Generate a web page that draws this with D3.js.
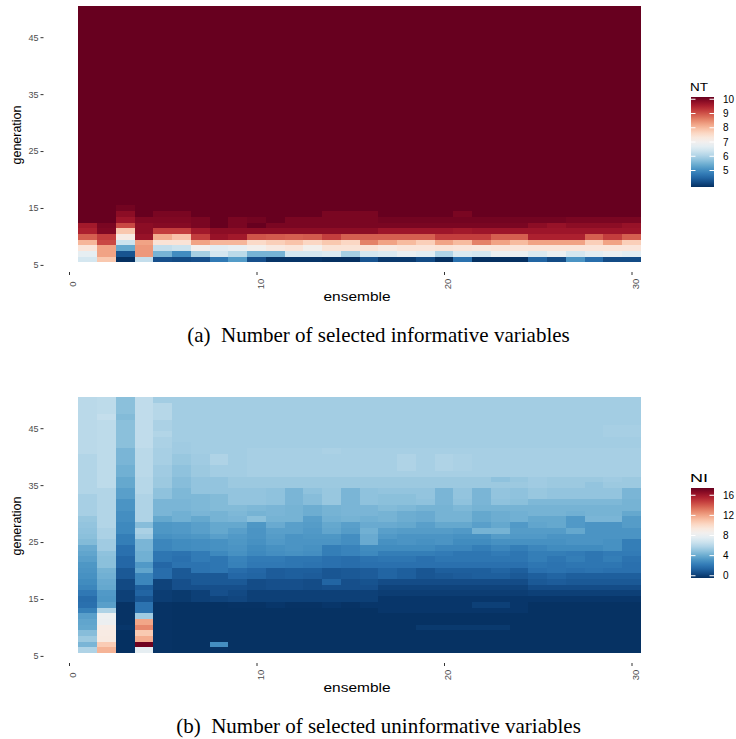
<!DOCTYPE html>
<html>
<head>
<meta charset="utf-8">
<script src="https://cdn.jsdelivr.net/npm/d3@7"></script>
<style>
  body { margin: 0; background: #fff; }
  svg text { font-family: "Liberation Sans", Arial, sans-serif; }
  .caption { font-family: "Liberation Serif", "Times New Roman", serif; }
</style>
</head>
<body>
<svg id="chart" width="736" height="739"></svg>
<script>
// ---------------- data ----------------
const ensembles = [1,2,3,4,5,6,7,8,9,10,11,12,13,14,15,16,17,18,19,20,21,22,23,24,25,26,27,28,29,30];
const generations = [6,7,8,9,10,11,12,13,14,15,16,17,18,19,20,21,22,23,24,25,26,27,28,29,30,
                     31,32,33,34,35,36,37,38,39,40,41,42,43,44,45,46,47,48,49,50];
const yTicks = [5, 15, 25, 35, 45];
const xTicks = [0, 10, 20, 30];
const ntLegendTicks = [5, 6, 7, 8, 9, 10];
const niLegendTicks = [0, 4, 8, 12, 16];

// NT (informative): rows for generation 6..16, one value per ensemble 1..30.
// every cell from generation 17 upward reads as the top of the scale (10).
const ntLowGenerations = [6,7,8,9,10,11,12,13,14,15,16];
const ntLow = [
  [6.5,7.8,4.0,6.3,4.35,4.3,4.35,4.85,5.3,4.35,4.05,4.05,4.05,4.0,4.0,4.4,4.1,4.1,4.3,4.0,4.75,4.0,4.0,4.0,4.6,4.3,5.2,4.7,4.3,4.3],
  [6.75,8.2,4.4,8.3,5.6,5.1,6.0,6.5,6.2,5.6,5.6,6.5,6.5,6.6,6.0,6.5,6.6,6.85,6.7,6.1,6.6,6.5,6.85,6.85,6.6,6.85,6.5,6.7,6.85,6.7],
  [7.35,8.2,5.45,8.3,6.3,6.4,7.0,6.7,6.8,7.05,7.25,7.35,7.05,7.4,7.4,7.4,7.25,7.35,7.35,7.4,7.35,7.3,7.35,7.35,7.35,7.35,7.35,7.35,7.35,7.35],
  [8.0,9.0,6.4,8.2,7.4,7.4,8.2,8.0,8.0,7.55,7.7,7.85,7.6,7.8,7.6,8.5,8.2,7.95,7.7,8.2,7.95,8.5,8.2,7.95,8.2,8.2,8.2,7.7,8.2,7.7],
  [8.8,9.1,7.2,9.6,8.1,7.85,9.1,9.6,9.5,8.9,8.85,8.8,8.85,9.1,8.8,8.8,8.8,8.8,8.8,9.1,9.1,9.1,8.8,8.8,9.4,9.4,9.4,8.8,9.1,8.8],
  [9.4,9.8,7.8,9.7,9.1,9.1,9.5,9.7,9.7,9.7,9.7,9.7,9.7,9.7,9.7,9.7,9.55,9.55,9.55,9.55,9.5,9.55,9.55,9.55,9.55,9.55,9.55,9.55,9.55,9.55],
  [9.5,9.85,9.0,9.7,9.75,9.75,9.85,10,9.85,10,9.85,9.85,9.85,9.85,9.85,9.85,9.85,9.85,9.85,9.85,9.85,9.85,9.85,9.85,9.7,9.6,9.7,9.7,9.7,9.6],
  [10,10,9.55,9.8,9.8,9.8,9.85,10,9.85,9.9,10,9.85,9.85,9.85,9.85,9.85,9.9,9.9,9.9,9.9,9.9,9.9,9.9,9.9,9.9,9.9,9.85,9.85,9.85,9.85],
  [10,10,9.7,10,9.85,9.85,10,10,10,10,10,10,10,9.85,9.85,9.85,10,10,10,10,9.85,10,10,10,10,10,10,10,10,10],
  [10,10,9.9,10,10,10,10,10,10,10,10,10,10,10,10,10,10,10,10,10,10,10,10,10,10,10,10,10,10,10],
  [10,10,10,10,10,10,10,10,10,10,10,10,10,10,10,10,10,10,10,10,10,10,10,10,10,10,10,10,10,10]
];
const ntPlateau = 10;

// NI (uninformative): one array per ensemble, generation 50 down to 6
const niByEnsemble = [
  [6.2,6.2,6.2,6.2,6.2,6.2,6.2,6.2,6.2,6.2,6.0,6.0,6.0,6.0,6.0,6.0,6.0,5.7,5.7,5.7,5.7,5.3,5.2,5.1,5.0,4.8,4.2,4.0,3.8,3.5,3.4,3.3,3.1,2.9,2.4,2.0,2.1,2.7,3.8,4.0,4.1,4.9,5.4,4.6,5.9],
  [6.3,6.3,6.3,6.5,6.3,6.3,6.3,6.3,6.3,6.3,6.3,6.3,6.3,6.3,6.3,6.3,6.0,6.0,6.0,6.0,6.0,6.0,6.0,5.8,5.8,5.5,5.5,5.1,5.0,5.0,4.5,4.4,4.2,4.1,3.6,3.5,3.8,5.9,8.2,8.1,9.0,9.1,9.2,10.6,11.4],
  [5.0,5.0,5.0,4.8,5.0,5.0,5.0,5.0,5.0,4.6,4.6,4.6,4.4,4.4,4.1,4.1,3.8,3.8,3.4,3.4,3.2,3.2,3.0,3.0,2.6,2.6,2.1,2.1,1.8,1.8,1.3,1.3,0.8,0.8,0.5,0.5,0.1,0.1,0.1,0.1,0.2,0,0,0,0],
  [6.4,6.4,6.4,6.4,6.4,6.4,6.4,6.4,6.4,6.2,6.2,6.2,6.2,6.2,6.1,6.1,6.1,5.9,5.9,5.9,5.9,5.9,4.9,5.8,5.5,4.6,4.6,4.4,4.4,3.6,4.0,2.9,2.9,1.5,1.7,1.2,2.2,2.2,5.5,11.8,12.6,10.7,11.6,16.8,7.8],
  [5.6,6.1,6.1,6.1,5.8,5.8,6.0,5.8,5.8,5.7,5.7,5.7,5.5,5.5,5.4,5.4,5.1,5.1,4.6,4.6,4.6,4.1,3.5,3.5,3.3,2.9,2.9,2.3,2.3,1.8,2.0,2.0,0.6,0.6,0.4,0.4,0.1,0.1,0.1,0.1,0.1,0.1,0.1,0.1,0.1],
  [5.6,5.6,5.6,5.6,5.6,5.6,5.6,5.6,5.5,5.5,5.3,5.3,5.1,5.1,4.9,4.9,4.7,4.7,4.6,4.6,4.4,4.4,3.6,3.6,3.4,3.1,3.1,2.2,2.1,2.2,1.3,1.3,1.0,1.0,0.3,0.3,0.05,0.05,0.05,0.05,0.05,0.05,0.05,0.05,0.05],
  [5.6,5.6,5.6,5.6,5.6,5.6,5.6,5.6,5.6,5.6,5.5,5.5,5.4,5.4,5.2,5.2,5.2,4.7,4.7,4.7,4.6,4.1,3.8,3.8,3.5,3.2,3.2,2.5,2.5,2.2,2.2,1.3,1.3,1.0,0.5,0.5,0.05,0.05,0.05,0.05,0.05,0.05,0.05,0.05,0.05],
  [5.6,5.6,5.6,5.6,5.6,5.6,5.6,5.6,5.6,5.6,5.9,5.9,5.6,5.6,5.2,5.2,5.2,4.8,4.8,4.8,4.5,4.5,4.1,4.1,3.8,3.3,3.3,3.0,2.3,2.3,2.3,1.3,1.3,1.0,1.0,0.6,0.05,0.05,0.05,0.05,0.05,0.05,0.05,3.2,0.1],
  [5.6,5.6,5.6,5.6,5.6,5.6,5.6,5.6,5.6,5.6,5.6,5.6,5.6,5.6,5.4,5.4,5.2,5.2,5.2,4.8,4.7,4.6,4.1,3.8,3.6,3.5,3.4,3.3,2.8,2.7,2.0,1.8,1.3,1.0,0.8,0.7,0.1,0.05,0.05,0.05,0.05,0.05,0.05,0.05,0.05],
  [5.6,5.6,5.6,5.6,5.6,5.6,5.6,5.6,5.6,5.7,5.7,5.7,5.7,5.7,5.4,5.4,5.2,5.2,5.2,4.7,4.5,5.0,3.5,3.4,3.4,3.3,3.1,3.0,2.5,2.4,1.8,1.7,0.9,0.9,0.5,0.5,0.1,0.05,0.05,0.05,0.05,0.05,0.05,0.05,0.05],
  [5.6,5.6,5.6,5.6,5.6,5.6,5.6,5.6,5.6,5.7,5.7,5.7,5.7,5.7,5.4,5.4,5.1,5.1,5.1,4.6,4.6,4.5,4.2,3.8,3.7,3.6,3.3,3.2,2.5,2.4,1.4,1.4,1.0,1.0,0.5,0.5,0.2,0.05,0.05,0.05,0.05,0.05,0.05,0.05,0.05],
  [5.6,5.6,5.6,5.6,5.6,5.6,5.6,5.6,5.6,5.7,5.7,5.7,5.7,5.7,5.4,5.4,4.6,4.6,4.6,4.5,4.5,4.5,3.8,3.8,3.4,3.4,3.4,3.3,2.3,2.3,1.5,1.5,1.0,1.0,0.5,0.5,0.1,0.05,0.05,0.05,0.05,0.05,0.05,0.05,0.05],
  [5.6,5.6,5.6,5.6,5.6,5.6,5.6,5.6,5.6,5.7,5.7,5.7,5.7,5.7,5.4,5.4,5.1,4.9,4.9,4.3,4.3,3.8,3.7,3.6,3.5,3.4,3.3,3.2,2.3,2.2,1.5,1.4,0.9,0.9,0.5,0.5,0.1,0.05,0.05,0.05,0.05,0.05,0.05,0.05,0.05],
  [5.6,5.6,5.6,5.6,5.6,5.6,5.6,5.6,5.6,5.8,5.7,5.7,5.7,5.7,5.4,5.4,5.3,5.3,5.3,4.5,4.5,4.4,4.1,4.0,3.5,3.4,2.6,2.6,2.1,2.1,1.2,1.2,1.7,1.0,0.5,0.5,0.2,0.05,0.05,0.05,0.05,0.05,0.05,0.05,0.05],
  [5.6,5.6,5.6,5.6,5.6,5.6,5.6,5.6,5.6,5.7,5.7,5.7,5.7,5.7,5.4,5.4,4.6,4.6,4.6,4.6,4.6,4.5,3.8,3.7,3.2,3.2,2.8,2.8,2.0,2.0,1.3,1.3,1.0,1.0,0.5,0.5,0.1,0.05,0.05,0.05,0.05,0.05,0.05,0.05,0.05],
  [5.6,5.6,5.6,5.6,5.6,5.6,5.6,5.6,5.6,5.7,5.7,5.7,5.7,5.7,5.4,5.4,5.1,5.1,5.1,4.6,4.6,4.4,4.2,4.4,4.2,4.2,3.1,3.0,2.2,2.1,1.4,1.4,1.1,1.0,0.5,0.5,0.2,0.05,0.05,0.05,0.05,0.05,0.05,0.05,0.05],
  [5.6,5.6,5.6,5.6,5.6,5.6,5.6,5.6,5.6,5.7,5.7,5.7,5.7,5.7,5.4,5.4,5.2,5.0,5.0,4.8,4.5,4.5,4.2,3.8,3.6,3.3,3.1,2.6,2.3,2.1,1.7,1.7,0.9,0.6,0.4,0.2,0.2,0.2,0.05,0.05,0.05,0.05,0.05,0.05,0.05],
  [5.6,5.6,5.6,5.6,5.6,5.6,5.6,5.6,5.6,5.7,5.9,5.9,5.9,5.7,5.4,5.4,5.2,5.0,5.0,4.7,4.3,4.3,4.1,3.7,3.4,3.4,3.1,2.6,2.3,2.1,1.5,1.5,0.9,0.6,0.4,0.2,0.2,0.2,0.05,0.05,0.05,0.05,0.05,0.05,0.05],
  [5.6,5.6,5.6,5.6,5.6,5.6,5.6,5.6,5.6,5.7,5.7,5.7,5.7,5.7,5.4,5.4,5.2,5.2,5.1,4.5,4.2,4.2,3.8,3.7,3.4,3.3,3.1,2.6,2.1,2.1,1.2,1.2,0.9,0.6,0.4,0.2,0.2,0.2,0.05,0.05,0.3,0.05,0.05,0.05,0.05],
  [5.6,5.6,5.6,5.6,5.6,5.6,5.6,5.6,5.6,5.7,5.9,5.9,5.9,5.7,5.4,5.4,4.6,4.6,4.6,4.5,4.5,4.5,4.1,3.7,3.4,3.4,2.9,2.5,2.3,2.1,1.5,1.3,0.9,0.6,0.4,0.2,0.2,0.2,0.05,0.05,0.3,0.05,0.05,0.05,0.05],
  [5.6,5.6,5.6,5.6,5.6,5.6,5.6,5.6,5.6,5.7,5.8,5.8,5.8,5.7,5.4,5.4,5.2,5.2,5.1,4.7,4.5,4.5,4.1,3.6,3.3,3.1,2.9,2.3,2.3,2.1,1.5,1.4,0.9,0.6,0.4,0.2,0.2,0.2,0.05,0.05,0.3,0.05,0.05,0.05,0.05],
  [5.6,5.6,5.6,5.6,5.6,5.6,5.6,5.6,5.6,5.7,5.7,5.7,5.7,5.7,5.4,5.4,4.6,4.6,4.6,4.5,4.1,4.1,3.8,4.5,3.3,3.1,2.6,2.3,2.3,2.1,1.5,1.5,0.9,0.6,0.4,0.2,0.5,0.2,0.05,0.05,0.3,0.05,0.05,0.05,0.05],
  [5.6,5.6,5.6,5.6,5.6,5.6,5.6,5.6,5.6,5.7,5.7,5.7,5.7,5.7,5.1,5.4,5.2,5.2,5.1,4.5,4.3,4.3,4.1,4.5,3.7,3.3,2.9,2.5,2.3,2.1,1.7,1.5,0.9,0.6,0.4,0.2,0.5,0.2,0.05,0.05,0.3,0.05,0.05,0.05,0.05],
  [5.6,5.6,5.6,5.6,5.6,5.6,5.6,5.6,5.6,5.7,5.7,5.7,5.7,5.7,5.3,5.4,5.1,5.1,5.0,4.5,4.4,4.4,3.6,3.7,3.6,3.3,2.6,2.3,2.3,2.1,1.5,1.3,0.9,0.6,0.4,0.2,0.2,0.2,0.05,0.05,0.05,0.05,0.05,0.05,0.05],
  [5.6,5.6,5.6,5.6,5.6,5.6,5.6,5.6,5.6,5.7,5.7,5.7,5.7,5.7,5.5,5.5,5.3,5.3,4.7,4.5,4.5,4.1,4.0,3.7,3.6,3.3,2.9,2.6,2.6,2.3,2.1,1.5,1.3,0.9,0.5,0.2,0.05,0.05,0.05,0.05,0.05,0.05,0.05,0.05,0.05],
  [5.6,5.6,5.6,5.6,5.6,5.6,5.6,5.6,5.6,5.7,5.7,5.7,5.7,5.7,5.4,5.4,5.2,5.2,4.7,4.5,4.5,4.1,4.1,3.7,3.4,3.3,3.1,2.6,2.3,2.2,2.2,1.7,1.4,0.9,0.5,0.2,0.05,0.05,0.05,0.05,0.05,0.05,0.05,0.05,0.05],
  [5.6,5.6,5.6,5.6,5.6,5.6,5.6,5.6,5.6,5.7,5.7,5.7,5.7,5.7,5.4,5.4,5.2,5.2,4.7,4.5,4.4,3.6,3.6,4.1,3.4,3.4,3.1,2.5,2.6,2.3,2.1,1.5,1.3,0.9,0.5,0.2,0.05,0.05,0.05,0.05,0.05,0.05,0.05,0.05,0.05],
  [5.6,5.6,5.6,5.6,5.6,5.6,5.6,5.6,5.6,5.7,5.7,5.7,5.7,5.7,5.4,5.2,5.2,5.2,4.7,4.5,4.5,4.6,3.4,3.4,3.4,3.4,3.1,2.3,2.3,2.3,2.2,1.5,1.3,0.9,0.5,0.2,0.05,0.05,0.05,0.05,0.05,0.05,0.05,0.05,0.05],
  [5.6,5.6,5.6,5.6,5.6,5.7,5.7,5.6,5.6,5.7,5.7,5.7,5.7,5.7,5.5,5.4,5.2,5.2,4.7,4.5,4.5,4.6,3.4,3.4,3.4,3.3,3.3,2.5,2.6,2.3,2.1,1.5,1.3,0.9,0.5,0.2,0.05,0.05,0.05,0.05,0.05,0.05,0.05,0.05,0.05],
  [5.6,5.6,5.6,5.6,5.6,5.7,5.7,5.6,5.6,5.7,5.7,5.7,5.7,5.7,5.4,5.4,4.6,4.6,4.5,4.5,4.1,3.7,3.7,3.4,3.4,2.6,2.6,2.5,2.2,2.1,2.1,1.5,1.3,0.9,0.5,0.2,0.05,0.05,0.05,0.05,0.05,0.05,0.05,0.05,0.05]
];

// ---------------- helpers ----------------
// RdBu, low values blue, high values red
const rdbu = t => d3.interpolateRdBu(1 - t);

function ntCells() {
  const cells = [];
  generations.forEach(g => {
    const li = ntLowGenerations.indexOf(g);
    ensembles.forEach((e, j) => {
      cells.push({ e, g, v: li >= 0 ? ntLow[li][j] : ntPlateau });
    });
  });
  return cells;
}

function niCells() {
  const cells = [];
  ensembles.forEach((e, j) => {
    niByEnsemble[j].forEach((v, i) => cells.push({ e, g: 50 - i, v }));
  });
  return cells;
}

const svg = d3.select('#chart');
const defs = svg.append('defs');

function drawPanel(top, cells, domain, title, legendTicks, caption) {
  const g = svg.append('g').attr('transform', `translate(0,${top})`);

  const x = d3.scaleLinear().domain([0, 30]).range([69, 631.5]);
  const y = d3.scaleLinear().domain([5, 45]).range([264.9, 37.2]);
  const color = d3.scaleSequential(rdbu).domain(domain);

  // tiles
  g.append('g').selectAll('rect').data(cells).join('rect')
    .attr('x', d => x(d.e - 0.5))
    .attr('y', d => y(d.g + 0.5))
    .attr('width', d => x(d.e + 0.5) - x(d.e - 0.5) + 0.3)
    .attr('height', d => y(d.g - 0.5) - y(d.g + 0.5) + 0.3)
    .attr('fill', d => color(d.v))
    .attr('shape-rendering', 'crispEdges');

  // y axis
  const ya = g.append('g').attr('transform', 'translate(43.5,0)')
    .call(d3.axisLeft(y).tickValues(yTicks).tickSize(3).tickPadding(2));
  ya.select('.domain').remove();
  ya.selectAll('line').attr('stroke', '#333');
  ya.selectAll('text').attr('fill', '#4d4d4d').style('font-size', '9px');

  // x axis
  const xa = g.append('g').attr('transform', 'translate(0,272)')
    .call(d3.axisBottom(x).tickValues(xTicks).tickSize(3));
  xa.select('.domain').remove();
  xa.selectAll('line').attr('stroke', '#333');
  xa.selectAll('text')
    .attr('fill', '#4d4d4d').style('font-size', '9.5px')
    .attr('text-anchor', 'middle').attr('dy', null).attr('y', null)
    .attr('transform', 'translate(3,12) rotate(-90)')
    .attr('dominant-baseline', 'central');

  // axis titles
  g.append('text').attr('x', 357).attr('y', 301).attr('text-anchor', 'middle')
    .attr('textLength', 67).attr('lengthAdjust', 'spacingAndGlyphs')
    .style('font-size', '12.5px').text('ensemble');
  g.append('text').attr('transform', 'translate(21,135) rotate(-90)').attr('text-anchor', 'middle')
    .attr('textLength', 59).attr('lengthAdjust', 'spacingAndGlyphs')
    .style('font-size', '12.5px').text('generation');

  // legend
  const bx = 691, bw = 23, bTop = 97, bH = 90;
  const gid = 'grad' + title;
  const grad = defs.append('linearGradient').attr('id', gid)
    .attr('x1', 0).attr('x2', 0).attr('y1', 1).attr('y2', 0);
  d3.range(0, 1.0001, 0.05).forEach(t => {
    grad.append('stop').attr('offset', t).attr('stop-color', rdbu(t));
  });
  g.append('text').attr('x', 690).attr('y', bTop - 6)
    .attr('textLength', 18).attr('lengthAdjust', 'spacingAndGlyphs')
    .style('font-size', '11.5px').text(title);
  g.append('rect').attr('x', bx).attr('y', bTop).attr('width', bw).attr('height', bH)
    .attr('fill', `url(#${gid})`);
  const ly = d3.scaleLinear().domain(domain)
    .range([bTop + bH - 0.025 * bH, bTop + 0.025 * bH]);
  const lt = g.append('g').selectAll('g').data(legendTicks).join('g')
    .attr('transform', d => `translate(0,${ly(d)})`);
  lt.append('line').attr('x1', bx).attr('x2', bx + 4.5).attr('stroke', '#fff');
  lt.append('line').attr('x1', bx + bw - 4.5).attr('x2', bx + bw).attr('stroke', '#fff');
  lt.append('text').attr('x', bx + bw + 9).attr('dy', '0.35em')
    .style('font-size', '10px').text(d => d);

  // caption
  g.append('text').attr('class', 'caption').attr('x', 378.5).attr('y', 342)
    .attr('text-anchor', 'middle').style('font-size', '21px').text(caption);
}

drawPanel(0, ntCells(), [4, 10], 'NT', ntLegendTicks,
  '(a)\u2002Number of selected informative variables');
drawPanel(391, niCells(), [0, 17], 'NI', niLegendTicks,
  '(b)\u2002Number of selected uninformative variables');
</script>
</body>
</html>
